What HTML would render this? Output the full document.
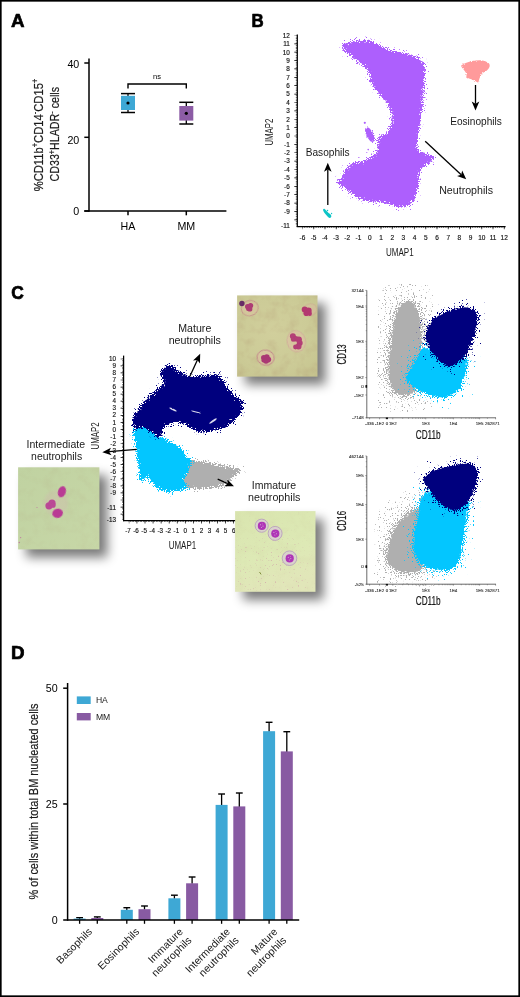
<!DOCTYPE html>
<html lang="en"><head><meta charset="utf-8"><title>Figure</title>
<style>
html,body{margin:0;padding:0;background:#fff;}
body{width:520px;height:997px;overflow:hidden;}
svg{display:block;}
svg text{font-family:"Liberation Sans","DejaVu Sans",sans-serif;}
</style></head><body>
<svg width="520" height="997" viewBox="0 0 520 997">
<defs>
<filter id="rough" x="-10%" y="-10%" width="120%" height="120%" color-interpolation-filters="sRGB">
<feTurbulence type="fractalNoise" baseFrequency="0.55" numOctaves="2" seed="3" result="n"/>
<feDisplacementMap in="SourceGraphic" in2="n" scale="3.2" xChannelSelector="R" yChannelSelector="G" result="d"/>
<feMorphology in="d" operator="dilate" radius="3" result="dil"/>
<feGaussianBlur in="d" stdDeviation="1.3" result="bl"/>
<feTurbulence type="fractalNoise" baseFrequency="0.87" numOctaves="2" seed="9" result="n2"/>
<feColorMatrix in="n2" type="matrix" values="0 0 0 0 0  0 0 0 0 0  0 0 0 0 0  1 0 0 0 0" result="na"/>
<feComposite in="bl" in2="na" operator="arithmetic" k1="0" k2="1" k3="2.6" k4="-1.8" result="sum"/>
<feComponentTransfer in="sum" result="mask"><feFuncA type="linear" slope="10" intercept="0"/></feComponentTransfer>
<feComposite in="dil" in2="mask" operator="in" result="spk"/>
<feMorphology in="d" operator="erode" radius="1.8" result="core"/>
<feMerge><feMergeNode in="spk"/><feMergeNode in="core"/></feMerge>
</filter>
<filter id="rough2" x="-10%" y="-10%" width="120%" height="120%">
<feTurbulence type="fractalNoise" baseFrequency="0.8" numOctaves="2" seed="7" result="n"/>
<feDisplacementMap in="SourceGraphic" in2="n" scale="2" xChannelSelector="R" yChannelSelector="G"/>
</filter>
<filter id="rough3" x="-15%" y="-15%" width="130%" height="130%">
<feTurbulence type="fractalNoise" baseFrequency="0.9" numOctaves="2" seed="5" result="n"/>
<feDisplacementMap in="SourceGraphic" in2="n" scale="3.2" xChannelSelector="R" yChannelSelector="G"/>
</filter>
<filter id="shadow" x="-50%" y="-50%" width="200%" height="200%">
<feGaussianBlur stdDeviation="5.3"/>
</filter>
<filter id="b1" x="-30%" y="-30%" width="160%" height="160%"><feGaussianBlur stdDeviation="0.7"/></filter>
<filter id="b2" x="-30%" y="-30%" width="160%" height="160%"><feGaussianBlur stdDeviation="1.2"/></filter>
</defs>
<rect x="0" y="0" width="520" height="997" fill="#fff"/>

<text font-size="18.8" font-weight="bold" x="10.9" y="27.1" stroke="#000" stroke-width="0.7" stroke-linejoin="round">A</text>
<text font-size="18.8" font-weight="bold" textLength="12.2" lengthAdjust="spacingAndGlyphs" x="251.4" y="26.7" stroke="#000" stroke-width="0.7" stroke-linejoin="round">B</text>
<text font-size="18.8" font-weight="bold" textLength="12.6" lengthAdjust="spacingAndGlyphs" x="11.2" y="298.6" stroke="#000" stroke-width="0.7" stroke-linejoin="round">C</text>
<text font-size="18.8" font-weight="bold" x="11.0" y="659.0" stroke="#000" stroke-width="0.7" stroke-linejoin="round">D</text>
<g id="panelA">
<line x1="89" y1="58.6" x2="89" y2="211.75" stroke="#000" stroke-width="1.5" />
<line x1="84.3" y1="211" x2="226.4" y2="211" stroke="#000" stroke-width="1.5" />
<line x1="84.3" y1="63" x2="89" y2="63" stroke="#000" stroke-width="1.5" />
<line x1="84.3" y1="137.3" x2="89" y2="137.3" stroke="#000" stroke-width="1.5" />
<line x1="84.3" y1="211" x2="89" y2="211" stroke="#000" stroke-width="1.5" />
<line x1="128" y1="211" x2="128" y2="215.3" stroke="#000" stroke-width="1.5" />
<line x1="186.3" y1="211" x2="186.3" y2="215.3" stroke="#000" stroke-width="1.5" />
<text font-size="10.7" text-anchor="end" x="79.3" y="67.6" >40</text>
<text font-size="10.7" text-anchor="end" x="79.3" y="143.5" >20</text>
<text font-size="10.7" text-anchor="end" x="79.3" y="214.7" >0</text>
<text font-size="10.7" text-anchor="middle" x="128" y="230.4" >HA</text>
<text font-size="10.7" text-anchor="middle" x="186.3" y="230.4" >MM</text>
<line x1="128" y1="93.6" x2="128" y2="112.5" stroke="#000" stroke-width="1.3" />
<line x1="121" y1="93.6" x2="135" y2="93.6" stroke="#000" stroke-width="1.5" />
<line x1="121" y1="112.5" x2="135" y2="112.5" stroke="#000" stroke-width="1.5" />
<rect x="121.00" y="95.80" width="14.00" height="14.20" fill="#3ea8d5" />
<circle cx="128" cy="103" r="1.6" fill="#000"/>
<line x1="186.3" y1="102.3" x2="186.3" y2="124" stroke="#000" stroke-width="1.3" />
<line x1="179.3" y1="102.3" x2="193.3" y2="102.3" stroke="#000" stroke-width="1.5" />
<line x1="179.3" y1="124" x2="193.3" y2="124" stroke="#000" stroke-width="1.5" />
<rect x="179.30" y="106.00" width="14.00" height="14.60" fill="#8c5ca5" />
<circle cx="186.3" cy="113.3" r="1.6" fill="#000"/>
<path d="M128 88.6 V84 H186.3 V88.6" fill="none" stroke="#000" stroke-width="1.4"/>
<text font-size="7.5" text-anchor="middle" x="157" y="79.3" >ns</text>
<text font-size="12.8" textLength="112.6" lengthAdjust="spacingAndGlyphs" fill="#1a1a1a" transform="translate(42.5 191.3) rotate(-90)" stroke="#1a1a1a" stroke-width="0.2">%CD11b<tspan font-size="8.6" dy="-4.6">+</tspan><tspan dy="4.6">CD14</tspan><tspan font-size="8.6" dy="-4.6">-</tspan><tspan dy="4.6">CD15</tspan><tspan font-size="8.6" dy="-4.6">+</tspan></text>
<text font-size="12.8" textLength="94.6" lengthAdjust="spacingAndGlyphs" fill="#1a1a1a" transform="translate(59.1 181.5) rotate(-90)" stroke="#1a1a1a" stroke-width="0.2">CD33<tspan font-size="8.6" dy="-4.6">+</tspan><tspan dy="4.6">HLADR</tspan><tspan font-size="8.6" dy="-4.6">-</tspan><tspan dy="4.6"> cells</tspan></text>
</g>
<g id="panelB">
<line x1="297.3" y1="34.5" x2="297.3" y2="227.1" stroke="#000" stroke-width="1.25" />
<line x1="296.7" y1="226.5" x2="505.6" y2="226.5" stroke="#000" stroke-width="1.25" />
<line x1="295.60" y1="35.44" x2="295.60" y2="224.83" stroke="#000" stroke-width="2.6" stroke-dasharray="0.7 7.6800" stroke-dashoffset="0.35"/>
<line x1="296.35" y1="35.44" x2="296.35" y2="224.83" stroke="#000" stroke-width="1.1" stroke-dasharray="0.45 1.2260" stroke-dashoffset="0.225"/>
<line x1="302.60" y1="228.10" x2="504.60" y2="228.10" stroke="#000" stroke-width="2.4" stroke-dasharray="0.7 10.5000" stroke-dashoffset="0.35"/>
<line x1="302.60" y1="227.45" x2="504.60" y2="227.45" stroke="#000" stroke-width="1.1" stroke-dasharray="0.45 1.7900" stroke-dashoffset="0.225"/>
<text font-size="6.4" text-anchor="end" fill="#111" x="289.8" y="37.74" stroke="#111" stroke-width="0.15">12</text>
<text font-size="6.4" text-anchor="end" fill="#111" x="289.8" y="46.12" stroke="#111" stroke-width="0.15">11</text>
<text font-size="6.4" text-anchor="end" fill="#111" x="289.8" y="54.5" stroke="#111" stroke-width="0.15">10</text>
<text font-size="6.4" text-anchor="end" fill="#111" x="289.8" y="62.88" stroke="#111" stroke-width="0.15">9</text>
<text font-size="6.4" text-anchor="end" fill="#111" x="289.8" y="71.26" stroke="#111" stroke-width="0.15">8</text>
<text font-size="6.4" text-anchor="end" fill="#111" x="289.8" y="79.64" stroke="#111" stroke-width="0.15">7</text>
<text font-size="6.4" text-anchor="end" fill="#111" x="289.8" y="88.02" stroke="#111" stroke-width="0.15">6</text>
<text font-size="6.4" text-anchor="end" fill="#111" x="289.8" y="96.4" stroke="#111" stroke-width="0.15">5</text>
<text font-size="6.4" text-anchor="end" fill="#111" x="289.8" y="104.78" stroke="#111" stroke-width="0.15">4</text>
<text font-size="6.4" text-anchor="end" fill="#111" x="289.8" y="113.16" stroke="#111" stroke-width="0.15">3</text>
<text font-size="6.4" text-anchor="end" fill="#111" x="289.8" y="121.54" stroke="#111" stroke-width="0.15">2</text>
<text font-size="6.4" text-anchor="end" fill="#111" x="289.8" y="129.92" stroke="#111" stroke-width="0.15">1</text>
<text font-size="6.4" text-anchor="end" fill="#111" x="289.8" y="138.3" stroke="#111" stroke-width="0.15">0</text>
<text font-size="6.4" text-anchor="end" fill="#111" x="289.8" y="146.68" stroke="#111" stroke-width="0.15">-1</text>
<text font-size="6.4" text-anchor="end" fill="#111" x="289.8" y="155.06" stroke="#111" stroke-width="0.15">-2</text>
<text font-size="6.4" text-anchor="end" fill="#111" x="289.8" y="163.44" stroke="#111" stroke-width="0.15">-3</text>
<text font-size="6.4" text-anchor="end" fill="#111" x="289.8" y="171.82" stroke="#111" stroke-width="0.15">-4</text>
<text font-size="6.4" text-anchor="end" fill="#111" x="289.8" y="180.2" stroke="#111" stroke-width="0.15">-5</text>
<text font-size="6.4" text-anchor="end" fill="#111" x="289.8" y="188.58" stroke="#111" stroke-width="0.15">-6</text>
<text font-size="6.4" text-anchor="end" fill="#111" x="289.8" y="196.96" stroke="#111" stroke-width="0.15">-7</text>
<text font-size="6.4" text-anchor="end" fill="#111" x="289.8" y="205.34" stroke="#111" stroke-width="0.15">-8</text>
<text font-size="6.4" text-anchor="end" fill="#111" x="289.8" y="213.72" stroke="#111" stroke-width="0.15">-9</text>
<text font-size="6.4" text-anchor="end" fill="#111" x="289.8" y="227.9" stroke="#111" stroke-width="0.15">-11</text>
<text font-size="6.5" text-anchor="middle" fill="#111" x="302.4" y="240.4" stroke="#111" stroke-width="0.15">-6</text>
<text font-size="6.5" text-anchor="middle" fill="#111" x="313.6" y="240.4" stroke="#111" stroke-width="0.15">-5</text>
<text font-size="6.5" text-anchor="middle" fill="#111" x="324.8" y="240.4" stroke="#111" stroke-width="0.15">-4</text>
<text font-size="6.5" text-anchor="middle" fill="#111" x="336.0" y="240.4" stroke="#111" stroke-width="0.15">-3</text>
<text font-size="6.5" text-anchor="middle" fill="#111" x="347.2" y="240.4" stroke="#111" stroke-width="0.15">-2</text>
<text font-size="6.5" text-anchor="middle" fill="#111" x="358.4" y="240.4" stroke="#111" stroke-width="0.15">-1</text>
<text font-size="6.5" text-anchor="middle" fill="#111" x="369.8" y="240.4" stroke="#111" stroke-width="0.15">0</text>
<text font-size="6.5" text-anchor="middle" fill="#111" x="381.0" y="240.4" stroke="#111" stroke-width="0.15">1</text>
<text font-size="6.5" text-anchor="middle" fill="#111" x="392.2" y="240.4" stroke="#111" stroke-width="0.15">2</text>
<text font-size="6.5" text-anchor="middle" fill="#111" x="403.4" y="240.4" stroke="#111" stroke-width="0.15">3</text>
<text font-size="6.5" text-anchor="middle" fill="#111" x="414.6" y="240.4" stroke="#111" stroke-width="0.15">4</text>
<text font-size="6.5" text-anchor="middle" fill="#111" x="425.8" y="240.4" stroke="#111" stroke-width="0.15">5</text>
<text font-size="6.5" text-anchor="middle" fill="#111" x="437.0" y="240.4" stroke="#111" stroke-width="0.15">6</text>
<text font-size="6.5" text-anchor="middle" fill="#111" x="448.2" y="240.4" stroke="#111" stroke-width="0.15">7</text>
<text font-size="6.5" text-anchor="middle" fill="#111" x="459.4" y="240.4" stroke="#111" stroke-width="0.15">8</text>
<text font-size="6.5" text-anchor="middle" fill="#111" x="470.6" y="240.4" stroke="#111" stroke-width="0.15">9</text>
<text font-size="6.5" text-anchor="middle" fill="#111" x="481.8" y="240.4" stroke="#111" stroke-width="0.15">10</text>
<text font-size="6.5" text-anchor="middle" fill="#111" x="493.0" y="240.4" stroke="#111" stroke-width="0.15">11</text>
<text font-size="6.5" text-anchor="middle" fill="#111" x="504.2" y="240.4" stroke="#111" stroke-width="0.15">12</text>
<text font-size="10.8" textLength="27" lengthAdjust="spacingAndGlyphs" fill="#1a1a1a" transform="translate(273.0 145.6) rotate(-90)" >UMAP2</text>
<text font-size="10.8" textLength="27.7" lengthAdjust="spacingAndGlyphs" fill="#1a1a1a" x="386" y="256.4" >UMAP1</text>
<path d="M342.0 46.6 C341.8 45.0 342.4 44.2 345.0 43.2 C347.6 42.2 354.1 40.9 357.7 40.4 C361.3 39.9 363.8 40.0 366.9 40.4 C370.0 40.8 373.1 41.4 376.2 42.7 C379.3 44.0 381.9 46.6 385.4 48.0 C388.8 49.4 392.7 50.2 396.9 51.2 C401.1 52.2 406.8 52.7 410.8 54.2 C414.9 55.7 418.9 57.9 421.2 60.0 C423.5 62.1 424.0 63.4 424.6 66.9 C425.2 70.4 425.2 75.4 425.0 80.8 C424.8 86.2 424.1 93.0 423.5 99.2 C422.9 105.4 421.9 112.6 421.2 117.7 C420.5 122.8 419.9 127.3 419.5 130.0 C419.1 132.7 419.1 130.9 418.8 133.8 C418.5 136.8 417.1 144.6 417.7 147.7 C418.3 150.8 420.4 151.2 422.3 152.3 C424.2 153.5 427.3 153.9 429.2 154.6 C431.1 155.3 433.4 155.3 433.8 156.5 C434.2 157.7 433.0 159.9 431.5 161.5 C430.0 163.1 426.5 164.5 424.6 166.2 C422.7 167.9 421.0 169.2 420.0 171.9 C419.0 174.6 419.3 178.7 418.8 182.3 C418.3 186.0 418.2 190.5 417.2 193.8 C416.2 197.1 414.8 199.8 413.0 201.9 C411.2 204.0 408.9 205.6 406.2 206.5 C403.5 207.4 399.4 207.5 396.9 207.2 C394.4 206.9 393.9 205.7 391.2 204.9 C388.5 204.1 384.1 203.1 380.8 202.6 C377.5 202.1 374.6 202.4 371.5 201.9 C368.4 201.4 365.4 200.8 362.3 199.6 C359.2 198.4 356.1 196.9 353.0 195.0 C349.9 193.1 346.6 190.0 343.8 188.0 C341.1 186.0 337.1 184.5 336.5 182.8 C335.9 181.1 338.8 180.1 340.4 177.7 C342.0 175.3 344.1 171.0 346.2 168.5 C348.3 166.0 349.9 164.0 353.0 162.7 C356.1 161.3 361.3 161.6 364.6 160.4 C367.9 159.2 370.6 157.5 372.7 155.8 C374.8 154.1 376.5 152.9 377.3 150.0 C378.1 147.1 376.5 141.0 377.3 138.5 C378.1 136.0 380.2 136.2 381.9 135.0 C383.6 133.8 386.3 133.2 387.7 131.5 C389.1 129.8 389.8 126.5 390.5 124.6 C391.2 122.7 391.7 121.9 391.8 120.0 C391.9 118.1 392.1 115.7 391.2 113.0 C390.3 110.3 388.4 106.9 386.5 103.8 C384.6 100.7 381.9 97.5 379.6 94.6 C377.3 91.7 374.5 89.0 372.7 86.5 C370.9 84.0 369.4 81.7 368.8 79.6 C368.2 77.5 369.9 75.9 369.2 73.8 C368.5 71.7 366.9 69.2 364.6 66.9 C362.3 64.6 358.5 62.3 355.4 60.0 C352.3 57.7 348.4 55.2 346.2 53.0 C344.0 50.8 342.2 48.2 342.0 46.6Z" fill="#ad5ffd" filter="url(#rough)" />
<path d="M365.3 128.6 C365.8 127.6 367.6 127.4 368.6 127.8 C369.7 128.2 370.7 129.7 371.6 131.0 C372.5 132.3 373.7 133.9 374.2 135.5 C374.7 137.1 375.3 139.5 374.8 140.6 C374.3 141.7 372.5 142.1 371.4 141.8 C370.3 141.5 369.1 139.9 368.2 138.6 C367.3 137.3 366.3 135.7 365.8 134.0 C365.3 132.3 364.8 129.6 365.3 128.6Z" fill="#ad5ffd" filter="url(#rough3)" />
<circle cx="364.8" cy="122.8" r="1.1" fill="#ad5ffd"/><circle cx="368.2" cy="149.6" r="0.8" fill="#ad5ffd"/><circle cx="366.8" cy="152.5" r="0.6" fill="#ad5ffd"/>
<path d="M461.2 66.0 C461.3 64.9 462.6 64.3 464.6 63.4 C466.6 62.5 470.4 61.3 473.3 60.8 C476.2 60.3 479.4 60.1 481.9 60.4 C484.3 60.7 486.7 61.6 488.0 62.5 C489.3 63.4 489.8 64.7 489.7 66.0 C489.6 67.3 488.4 69.0 487.1 70.3 C485.8 71.6 483.2 72.3 481.9 73.7 C480.6 75.1 479.9 77.5 479.3 78.9 C478.7 80.4 478.8 82.1 478.1 82.4 C477.4 82.8 476.5 81.6 475.3 81.0 C474.1 80.4 472.1 79.5 470.7 79.0 C469.2 78.5 467.3 79.1 466.6 78.2 C465.9 77.3 466.9 75.2 466.4 73.8 C465.9 72.4 464.7 71.1 463.8 69.8 C462.9 68.5 461.1 67.1 461.2 66.0Z" fill="#ff9a9b" filter="url(#rough3)" />
<path d="M323.1 209.5 C323.2 209.0 323.9 208.7 324.5 208.9 C325.1 209.1 325.9 210.2 326.6 210.9 C327.3 211.6 327.9 212.3 328.6 212.9 C329.3 213.5 330.2 213.8 330.6 214.4 C331.1 215.0 331.4 216.0 331.3 216.6 C331.2 217.2 330.7 217.8 330.1 217.9 C329.6 218.0 328.7 217.6 328.0 217.0 C327.3 216.4 326.5 215.4 325.8 214.6 C325.1 213.8 324.3 212.8 323.9 212.0 C323.4 211.2 323.0 210.0 323.1 209.5Z" fill="#0cc4c6" />
<g fill="#0cc4c6"><circle cx="327.5" cy="210.6" r="0.75"/><circle cx="331.6" cy="213.5" r="0.65"/></g>
<line x1="475.5" y1="85" x2="475.5" y2="103.8" stroke="#000" stroke-width="1.3" />
<path d="M475.50 110.60 L471.70 101.60 L475.50 103.80 L479.30 101.60 Z" fill="#000"/>
<line x1="327.8" y1="204.9" x2="327.8" y2="169.6" stroke="#000" stroke-width="1.3" />
<path d="M327.80 162.80 L331.60 171.80 L327.80 169.60 L324.00 171.80 Z" fill="#000"/>
<line x1="425.2" y1="141.3" x2="461.21" y2="174.68" stroke="#000" stroke-width="1.3" />
<path d="M466.20 179.30 L457.02 175.97 L461.21 174.68 L462.18 170.40 Z" fill="#000"/>
<text font-size="10.6" textLength="51.6" lengthAdjust="spacingAndGlyphs" fill="#1a1a1a" x="450.2" y="124.8" >Eosinophils</text>
<text font-size="10.6" textLength="43.9" lengthAdjust="spacingAndGlyphs" fill="#1a1a1a" x="305.7" y="156.1" >Basophils</text>
<text font-size="10.6" textLength="53.8" lengthAdjust="spacingAndGlyphs" fill="#1a1a1a" x="439.2" y="193.6" >Neutrophils</text>
</g>
<g id="panelC">
<line x1="123.6" y1="355.6" x2="123.6" y2="521.2" stroke="#000" stroke-width="1.25" />
<line x1="123.0" y1="520.6" x2="240" y2="520.6" stroke="#000" stroke-width="1.25" />
<line x1="121.90" y1="358.80" x2="121.90" y2="520.47" stroke="#000" stroke-width="2.6" stroke-dasharray="0.7 6.3600" stroke-dashoffset="0.35"/>
<line x1="122.65" y1="358.80" x2="122.65" y2="520.47" stroke="#000" stroke-width="1.1" stroke-dasharray="0.45 0.9620" stroke-dashoffset="0.225"/>
<line x1="128.88" y1="522.20" x2="239.30" y2="522.20" stroke="#000" stroke-width="2.4" stroke-dasharray="0.7 7.3600" stroke-dashoffset="0.35"/>
<line x1="128.88" y1="521.55" x2="239.30" y2="521.55" stroke="#000" stroke-width="1.1" stroke-dasharray="0.45 1.1620" stroke-dashoffset="0.225"/>
<text font-size="6.3" text-anchor="end" fill="#111" x="115.9" y="361.0" stroke="#111" stroke-width="0.15">10</text>
<text font-size="6.3" text-anchor="end" fill="#111" x="115.9" y="368.06" stroke="#111" stroke-width="0.15">9</text>
<text font-size="6.3" text-anchor="end" fill="#111" x="115.9" y="375.12" stroke="#111" stroke-width="0.15">8</text>
<text font-size="6.3" text-anchor="end" fill="#111" x="115.9" y="382.18" stroke="#111" stroke-width="0.15">7</text>
<text font-size="6.3" text-anchor="end" fill="#111" x="115.9" y="389.24" stroke="#111" stroke-width="0.15">6</text>
<text font-size="6.3" text-anchor="end" fill="#111" x="115.9" y="396.3" stroke="#111" stroke-width="0.15">5</text>
<text font-size="6.3" text-anchor="end" fill="#111" x="115.9" y="403.36" stroke="#111" stroke-width="0.15">4</text>
<text font-size="6.3" text-anchor="end" fill="#111" x="115.9" y="410.42" stroke="#111" stroke-width="0.15">3</text>
<text font-size="6.3" text-anchor="end" fill="#111" x="115.9" y="417.48" stroke="#111" stroke-width="0.15">2</text>
<text font-size="6.3" text-anchor="end" fill="#111" x="115.9" y="424.54" stroke="#111" stroke-width="0.15">1</text>
<text font-size="6.3" text-anchor="end" fill="#111" x="115.9" y="431.6" stroke="#111" stroke-width="0.15">0</text>
<text font-size="6.3" text-anchor="end" fill="#111" x="115.9" y="438.66" stroke="#111" stroke-width="0.15">-1</text>
<text font-size="6.3" text-anchor="end" fill="#111" x="115.9" y="445.72" stroke="#111" stroke-width="0.15">-2</text>
<text font-size="6.3" text-anchor="end" fill="#111" x="115.9" y="452.78" stroke="#111" stroke-width="0.15">-3</text>
<text font-size="6.3" text-anchor="end" fill="#111" x="115.9" y="459.84" stroke="#111" stroke-width="0.15">-4</text>
<text font-size="6.3" text-anchor="end" fill="#111" x="115.9" y="466.9" stroke="#111" stroke-width="0.15">-5</text>
<text font-size="6.3" text-anchor="end" fill="#111" x="115.9" y="473.96" stroke="#111" stroke-width="0.15">-6</text>
<text font-size="6.3" text-anchor="end" fill="#111" x="115.9" y="481.02" stroke="#111" stroke-width="0.15">-7</text>
<text font-size="6.3" text-anchor="end" fill="#111" x="115.9" y="488.08" stroke="#111" stroke-width="0.15">-8</text>
<text font-size="6.3" text-anchor="end" fill="#111" x="115.9" y="495.14" stroke="#111" stroke-width="0.15">-9</text>
<text font-size="6.3" text-anchor="end" fill="#111" x="115.9" y="509.5" stroke="#111" stroke-width="0.15">-11</text>
<text font-size="6.3" text-anchor="end" fill="#111" x="115.9" y="521.6" stroke="#111" stroke-width="0.15">-13</text>
<text font-size="6.3" text-anchor="middle" fill="#111" x="127.98" y="533.3" stroke="#111" stroke-width="0.15">-7</text>
<text font-size="6.3" text-anchor="middle" fill="#111" x="136.04" y="533.3" stroke="#111" stroke-width="0.15">-6</text>
<text font-size="6.3" text-anchor="middle" fill="#111" x="144.1" y="533.3" stroke="#111" stroke-width="0.15">-5</text>
<text font-size="6.3" text-anchor="middle" fill="#111" x="152.16" y="533.3" stroke="#111" stroke-width="0.15">-4</text>
<text font-size="6.3" text-anchor="middle" fill="#111" x="160.22" y="533.3" stroke="#111" stroke-width="0.15">-3</text>
<text font-size="6.3" text-anchor="middle" fill="#111" x="168.28" y="533.3" stroke="#111" stroke-width="0.15">-2</text>
<text font-size="6.3" text-anchor="middle" fill="#111" x="176.34" y="533.3" stroke="#111" stroke-width="0.15">-1</text>
<text font-size="6.3" text-anchor="middle" fill="#111" x="185.3" y="533.3" stroke="#111" stroke-width="0.15">0</text>
<text font-size="6.3" text-anchor="middle" fill="#111" x="193.36" y="533.3" stroke="#111" stroke-width="0.15">1</text>
<text font-size="6.3" text-anchor="middle" fill="#111" x="201.42" y="533.3" stroke="#111" stroke-width="0.15">2</text>
<text font-size="6.3" text-anchor="middle" fill="#111" x="209.48" y="533.3" stroke="#111" stroke-width="0.15">3</text>
<text font-size="6.3" text-anchor="middle" fill="#111" x="217.54" y="533.3" stroke="#111" stroke-width="0.15">4</text>
<text font-size="6.3" text-anchor="middle" fill="#111" x="225.6" y="533.3" stroke="#111" stroke-width="0.15">5</text>
<text font-size="6.3" text-anchor="middle" fill="#111" x="233.66" y="533.3" stroke="#111" stroke-width="0.15">6</text>
<text font-size="10.8" textLength="27" lengthAdjust="spacingAndGlyphs" fill="#1a1a1a" transform="translate(99.0 449.4) rotate(-90)" >UMAP2</text>
<text font-size="10.8" textLength="27.5" lengthAdjust="spacingAndGlyphs" fill="#1a1a1a" x="168.7" y="548.6" >UMAP1</text>
<path d="M188.0 460.8 C190.6 459.1 196.6 460.8 200.8 461.2 C205.0 461.6 208.9 462.4 213.0 463.2 C217.1 464.0 220.9 464.9 225.4 465.8 C229.9 466.7 237.2 467.9 239.8 468.8 C242.4 469.8 241.7 470.3 240.8 471.5 C239.9 472.7 236.9 474.4 234.6 476.2 C232.3 478.0 229.5 480.5 226.9 482.3 C224.3 484.1 222.5 485.9 219.2 486.9 C215.9 487.9 211.0 488.2 206.9 488.5 C202.8 488.8 198.1 488.8 194.6 488.8 C191.1 488.8 188.3 489.8 186.0 488.5 C183.7 487.2 181.2 483.6 181.0 480.8 C180.8 478.0 183.8 474.8 185.0 471.5 C186.2 468.2 185.4 462.5 188.0 460.8Z" fill="#afafaf" filter="url(#rough)" />
<path d="M133.0 429.0 C134.6 427.4 139.2 424.9 142.3 425.0 C145.4 425.1 148.7 427.7 151.5 429.5 C154.3 431.3 156.1 433.8 159.2 435.7 C162.3 437.6 166.7 438.9 170.0 440.8 C173.3 442.7 176.4 444.3 179.2 446.9 C182.0 449.5 184.8 453.9 186.9 456.2 C189.0 458.5 191.2 458.2 191.5 460.8 C191.8 463.4 189.8 468.2 188.5 471.5 C187.2 474.8 183.8 478.0 183.8 480.8 C183.8 483.6 189.3 486.9 188.5 488.5 C187.7 490.1 182.5 489.9 179.2 490.6 C175.9 491.3 171.8 492.7 168.5 492.5 C165.2 492.3 162.0 491.1 159.2 489.4 C156.4 487.7 153.6 484.5 151.5 482.3 C149.4 480.1 148.2 476.4 146.9 476.2 C145.6 475.9 145.1 480.3 143.8 480.8 C142.5 481.3 140.1 481.2 139.2 479.2 C138.3 477.1 139.0 472.3 138.6 468.5 C138.2 464.7 137.3 460.3 136.8 456.2 C136.3 452.1 136.1 447.4 135.5 443.8 C134.9 440.2 133.4 437.1 133.0 434.6 C132.6 432.1 131.4 430.6 133.0 429.0Z" fill="#03c6ff" filter="url(#rough)" />
<path d="M161.4 369.2 C162.9 367.4 166.4 364.3 169.4 364.6 C172.4 364.9 176.0 368.9 179.2 370.8 C182.4 372.8 184.9 375.5 188.5 376.3 C192.1 377.1 196.7 375.6 200.8 375.4 C204.9 375.1 209.6 374.5 213.0 374.8 C216.4 375.1 218.9 375.2 221.3 377.3 C223.7 379.4 224.9 383.8 227.6 387.2 C230.2 390.6 234.6 395.2 237.2 397.6 C239.8 400.0 242.6 398.8 243.2 401.5 C243.8 404.2 242.2 410.7 240.8 413.8 C239.4 416.9 237.2 417.7 234.6 420.0 C232.0 422.3 229.0 425.9 225.4 427.7 C221.8 429.5 217.1 430.1 213.0 430.8 C208.9 431.5 204.4 432.0 200.8 431.7 C197.2 431.4 194.1 430.4 191.5 429.2 C188.9 428.0 187.5 425.7 185.4 424.6 C183.3 423.5 181.5 422.8 179.2 422.5 C176.9 422.2 174.1 422.1 171.5 423.0 C168.9 423.9 165.3 425.6 163.8 427.7 C162.3 429.8 163.3 433.7 162.3 435.4 C161.3 437.1 159.5 438.3 157.7 437.8 C155.9 437.3 154.1 434.0 151.5 432.3 C148.9 430.6 145.1 428.2 142.3 427.7 C139.5 427.2 136.2 430.5 134.6 429.2 C133.0 427.9 132.2 422.8 132.5 420.0 C132.8 417.2 134.3 415.4 136.2 412.3 C138.1 409.2 140.7 405.1 143.8 401.5 C146.9 397.9 151.4 393.9 154.6 390.8 C157.8 387.7 162.3 385.6 163.2 383.0 C164.1 380.4 160.5 377.7 160.2 375.4 C159.9 373.1 159.9 371.0 161.4 369.2Z" fill="#00007e" filter="url(#rough)" />
<g fill="#fff" filter="url(#rough2)" opacity="0.85"><ellipse cx="173" cy="409.5" rx="4" ry="0.8" transform="rotate(25 173 409.5)"/><ellipse cx="213" cy="421" rx="4.5" ry="1.0" transform="rotate(-35 213 421)"/><ellipse cx="196" cy="412" rx="5" ry="0.5" transform="rotate(15 196 412)"/></g>
<line x1="189.8" y1="376.6" x2="197.38" y2="359.99" stroke="#000" stroke-width="1.3" />
<path d="M200.20 353.80 L199.92 363.57 L197.38 359.99 L193.01 360.41 Z" fill="#000"/>
<line x1="136.8" y1="449.4" x2="109.08" y2="451.65" stroke="#000" stroke-width="1.3" />
<path d="M102.30 452.20 L110.96 447.68 L109.08 451.65 L111.58 455.26 Z" fill="#000"/>
<line x1="217.7" y1="479.2" x2="227.77" y2="483.58" stroke="#000" stroke-width="1.3" />
<path d="M234.00 486.30 L224.23 486.19 L227.77 483.58 L227.27 479.22 Z" fill="#000"/>
<text font-size="10.6" text-anchor="middle" fill="#1a1a1a" x="194.8" y="331.9" >Mature</text>
<text font-size="10.6" text-anchor="middle" textLength="52.3" lengthAdjust="spacingAndGlyphs" fill="#1a1a1a" x="194.8" y="344.2" >neutrophils</text>
<text font-size="10.6" text-anchor="middle" textLength="58.5" lengthAdjust="spacingAndGlyphs" fill="#1a1a1a" x="55.8" y="448" >Intermediate</text>
<text font-size="10.6" text-anchor="middle" textLength="51" lengthAdjust="spacingAndGlyphs" fill="#1a1a1a" x="56.6" y="460.3" >neutrophils</text>
<text font-size="10.6" text-anchor="middle" textLength="44.3" lengthAdjust="spacingAndGlyphs" fill="#1a1a1a" x="274" y="489" >Immature</text>
<text font-size="10.6" text-anchor="middle" textLength="52.4" lengthAdjust="spacingAndGlyphs" fill="#1a1a1a" x="274.2" y="500.9" >neutrophils</text>
<defs>
<radialGradient id="gm" cx="0.45" cy="0.45" r="0.75"><stop offset="0" stop-color="#d1cf9c"/><stop offset="0.6" stop-color="#cccb97"/><stop offset="1" stop-color="#c6c48f"/></radialGradient>
<linearGradient id="gi" x1="0" y1="0" x2="1" y2="1"><stop offset="0" stop-color="#c0d2a1"/><stop offset="1" stop-color="#c7d7a7"/></linearGradient>
<linearGradient id="gu" x1="0" y1="0" x2="0.3" y2="1"><stop offset="0" stop-color="#d9e5af"/><stop offset="0.6" stop-color="#dde9b5"/><stop offset="1" stop-color="#e1e6b9"/></linearGradient>
<filter id="mott" x="0" y="0" width="100%" height="100%" color-interpolation-filters="sRGB">
<feTurbulence type="fractalNoise" baseFrequency="0.09" numOctaves="3" seed="8" result="t"/>
<feColorMatrix in="t" type="matrix" values="0 0 0 0 0.62  0 0 0 0 0.45  0 0 0 0 0.35  1.6 0 0 0 -0.72"/>
<feComposite in2="SourceAlpha" operator="in"/>
</filter>
<filter id="speck" x="0" y="0" width="100%" height="100%" color-interpolation-filters="sRGB">
<feTurbulence type="fractalNoise" baseFrequency="0.55" numOctaves="2" seed="21" result="t"/>
<feColorMatrix in="t" type="matrix" values="0 0 0 0 0.80  0 0 0 0 0.54  0 0 0 0 0.64  7 0 0 0 -4.72"/>
<feComposite in2="SourceAlpha" operator="in"/>
</filter>
</defs>
<rect x="245.1" y="303.4" width="80.4" height="81.2" fill="#000" opacity="0.52" filter="url(#shadow)"/>
<rect x="237.1" y="295.4" width="80.4" height="81.2" fill="url(#gm)"/>
<rect x="237.1" y="295.4" width="80.4" height="81.2" fill="#000" opacity="0.22" filter="url(#mott)"/>
<clipPath id="cm"><rect x="237.1" y="295.4" width="80.4" height="81.2"/></clipPath><g clip-path="url(#cm)">
<ellipse cx="249.8" cy="308.2" rx="8.6" ry="7.6" transform="rotate(-20 249.8 308.2)" fill="#dcc0a0" fill-opacity="0.45" stroke="#c27e86" stroke-width="0.9" stroke-opacity="0.75" filter="url(#b1)"/>
<g fill="#a92e70" filter="url(#b1)" opacity="0.9"><circle cx="247.6" cy="306.5" r="2.6"/><circle cx="250.6" cy="305.5" r="2.6"/><circle cx="249.8" cy="308.9" r="2.6"/><circle cx="248.0" cy="308.9" r="2.0"/></g>
<g fill="#5c1c62" filter="url(#b1)" opacity="0.9"><circle cx="241.9" cy="303.5" r="2.7"/></g>
<ellipse cx="309.5" cy="310.0" rx="7.5" ry="6.0" transform="rotate(-25 309.5 310.0)" fill="#d9bea0" fill-opacity="0.5" stroke="#c79a8c" stroke-width="0.8" stroke-opacity="0.5" filter="url(#b1)"/>
<g fill="#b02a6c" filter="url(#b1)" opacity="0.9"><circle cx="304.7" cy="309.6" r="3.0"/><circle cx="308.5" cy="310.8" r="3.2"/><circle cx="306.3" cy="313.2" r="2.8"/><circle cx="309.7" cy="313.8" r="2.2"/></g>
<ellipse cx="296.3" cy="341.3" rx="9.2" ry="10.8" transform="rotate(-15 296.3 341.3)" fill="#e0c2a6" fill-opacity="0.55" stroke="#cf9a98" stroke-width="0.9" stroke-opacity="0.6" filter="url(#b1)"/>
<g fill="#b03072" filter="url(#b1)" opacity="0.9"><circle cx="292.9" cy="336.2" r="3.0"/><circle cx="295.7" cy="338.8" r="2.8"/><circle cx="298.9" cy="339.4" r="3.0"/><circle cx="299.7" cy="343.0" r="3.0"/><circle cx="298.5" cy="346.6" r="3.0"/><circle cx="295.5" cy="347.0" r="2.4"/><circle cx="293.1" cy="339.6" r="2.2"/></g>
<ellipse cx="265.6" cy="357.6" rx="8.6" ry="7.6" transform="rotate(10 265.6 357.6)" fill="#e0c4a6" fill-opacity="0.5" stroke="#bf7686" stroke-width="1.0" stroke-opacity="0.8" filter="url(#b1)"/>
<g fill="#a62c70" filter="url(#b1)" opacity="0.9"><circle cx="263.8" cy="357.8" r="2.8"/><circle cx="266.8" cy="357.0" r="2.8"/><circle cx="268.4" cy="359.6" r="2.8"/><circle cx="266.0" cy="361.0" r="2.8"/><circle cx="263.4" cy="360.6" r="2.0"/></g>
</g>
<rect x="26.1" y="475.3" width="81.3" height="82.1" fill="#000" opacity="0.52" filter="url(#shadow)"/>
<rect x="18.1" y="467.3" width="81.3" height="82.1" fill="url(#gi)"/>
<rect x="18.1" y="467.3" width="81.3" height="82.1" fill="#000" opacity="0.1" filter="url(#mott)"/>
<clipPath id="ci"><rect x="18.1" y="467.3" width="81.3" height="82.1"/></clipPath><g clip-path="url(#ci)">
<ellipse cx="56" cy="503" rx="12" ry="13" fill="#d8a8b8" opacity="0.22" filter="url(#b2)"/>
<ellipse cx="61.9" cy="491.8" rx="3.9" ry="5.7" transform="rotate(18 61.9 491.8)" fill="#b93a94" filter="url(#b1)"/>
<g fill="#b93a94" filter="url(#b1)" opacity="0.9"><circle cx="49.0" cy="505.8" r="3.6"/><circle cx="52.0" cy="503.2" r="3.6"/><circle cx="53.0" cy="505.2" r="2.6"/></g>
<ellipse cx="57.6" cy="513.3" rx="5.3" ry="4.6" transform="rotate(-12 57.6 513.3)" fill="#b93a94" filter="url(#b1)"/>
<g fill="#c060a0" opacity="0.7"><circle cx="19.3" cy="542.5" r="0.8"/><circle cx="20.6" cy="537.6" r="0.7"/><circle cx="37" cy="507.5" r="0.6"/></g>
</g>
<rect x="243.1" y="519.1" width="80.4" height="80.7" fill="#000" opacity="0.52" filter="url(#shadow)"/>
<rect x="235.1" y="511.1" width="80.4" height="80.7" fill="url(#gu)"/>
<rect x="235.1" y="511.1" width="80.4" height="80.7" fill="#000" opacity="0.06" filter="url(#mott)"/>
<clipPath id="cu"><rect x="235.1" y="511.1" width="80.4" height="80.7"/></clipPath><g clip-path="url(#cu)">
<defs><radialGradient id="spk" cx="0.42" cy="0.78" r="0.62"><stop offset="0" stop-color="#000" stop-opacity="1"/><stop offset="0.55" stop-color="#000" stop-opacity="0.75"/><stop offset="1" stop-color="#000" stop-opacity="0.1"/></radialGradient></defs><rect x="235.1" y="511.1" width="80.4" height="80.7" fill="url(#spk)" opacity="0.6" filter="url(#speck)"/>
<circle cx="261.7" cy="525.7" r="6.6" fill="#d9d2cc" stroke="#b9a0bc" stroke-width="0.9" filter="url(#b1)"/>
<circle cx="261.9" cy="525.9000000000001" r="4.1" fill="#ae34b6" filter="url(#b1)"/>
<g fill="#e6c8ea" opacity="0.8"><circle cx="260.5" cy="524.7" r="0.55"/><circle cx="263.0" cy="526.1" r="0.55"/><circle cx="261.5" cy="527.4000000000001" r="0.5"/><circle cx="262.5" cy="523.9000000000001" r="0.45"/></g>
<circle cx="275.1" cy="533.4" r="7.0" fill="#d9d2cc" stroke="#b9a0bc" stroke-width="0.9" filter="url(#b1)"/>
<circle cx="275.3" cy="533.6" r="4.1" fill="#ae34b6" filter="url(#b1)"/>
<g fill="#e6c8ea" opacity="0.8"><circle cx="273.90000000000003" cy="532.4" r="0.55"/><circle cx="276.40000000000003" cy="533.8" r="0.55"/><circle cx="274.90000000000003" cy="535.1" r="0.5"/><circle cx="275.90000000000003" cy="531.6" r="0.45"/></g>
<circle cx="289.5" cy="558.2" r="7.3" fill="#d9d2cc" stroke="#b9a0bc" stroke-width="0.9" filter="url(#b1)"/>
<circle cx="289.7" cy="558.4000000000001" r="4.1" fill="#ae34b6" filter="url(#b1)"/>
<g fill="#e6c8ea" opacity="0.8"><circle cx="288.3" cy="557.2" r="0.55"/><circle cx="290.8" cy="558.6" r="0.55"/><circle cx="289.3" cy="559.9000000000001" r="0.5"/><circle cx="290.3" cy="556.4000000000001" r="0.45"/></g>
<path d="M259.5 572 l1.6 2.4" stroke="#6a7a20" stroke-width="1" opacity="0.8"/>
</g>
</g>
<defs><filter id="cloudG" x="-30%" y="-30%" width="160%" height="160%" color-interpolation-filters="sRGB">
<feTurbulence type="fractalNoise" baseFrequency="0.6" numOctaves="2" seed="11" result="n"/>
<feDisplacementMap in="SourceGraphic" in2="n" scale="4.5" xChannelSelector="R" yChannelSelector="G" result="core0"/><feMorphology in="core0" operator="erode" radius="1.4" result="core"/>
<feMorphology in="SourceGraphic" operator="dilate" radius="16" result="dil"/>
<feGaussianBlur in="SourceAlpha" stdDeviation="6.0" result="blur"/>
<feTurbulence type="fractalNoise" baseFrequency="0.83" numOctaves="2" seed="4" result="n2"/>
<feColorMatrix in="n2" type="matrix" values="0 0 0 0 0  0 0 0 0 0  0 0 0 0 0  1 0 0 0 0" result="na"/>
<feComposite in="blur" in2="na" operator="arithmetic" k1="0" k2="1" k3="2.4" k4="-1.6" result="sum"/>
<feComponentTransfer in="sum" result="mask"><feFuncA type="linear" slope="7" intercept="0"/></feComponentTransfer>
<feComposite in="dil" in2="mask" operator="in" result="halo"/>
<feMerge><feMergeNode in="halo"/><feMergeNode in="core"/></feMerge>
</filter><filter id="cloudS" x="-30%" y="-30%" width="160%" height="160%" color-interpolation-filters="sRGB">
<feTurbulence type="fractalNoise" baseFrequency="0.6" numOctaves="2" seed="13" result="n"/>
<feDisplacementMap in="SourceGraphic" in2="n" scale="4" xChannelSelector="R" yChannelSelector="G" result="core0"/><feMorphology in="core0" operator="erode" radius="1" result="core"/>
<feMorphology in="SourceGraphic" operator="dilate" radius="10" result="dil"/>
<feGaussianBlur in="SourceAlpha" stdDeviation="4.2" result="blur"/>
<feTurbulence type="fractalNoise" baseFrequency="0.83" numOctaves="2" seed="9" result="n2"/>
<feColorMatrix in="n2" type="matrix" values="0 0 0 0 0  0 0 0 0 0  0 0 0 0 0  1 0 0 0 0" result="na"/>
<feComposite in="blur" in2="na" operator="arithmetic" k1="0" k2="1" k3="2.2" k4="-1.62" result="sum"/>
<feComponentTransfer in="sum" result="mask"><feFuncA type="linear" slope="9" intercept="0"/></feComponentTransfer>
<feComposite in="dil" in2="mask" operator="in" result="halo"/>
<feMerge><feMergeNode in="halo"/><feMergeNode in="core"/></feMerge>
</filter><filter id="cloudN" x="-30%" y="-30%" width="160%" height="160%" color-interpolation-filters="sRGB">
<feTurbulence type="fractalNoise" baseFrequency="0.6" numOctaves="2" seed="17" result="n"/>
<feDisplacementMap in="SourceGraphic" in2="n" scale="3.5" xChannelSelector="R" yChannelSelector="G" result="core0"/><feMorphology in="core0" operator="erode" radius="0.8" result="core"/>
<feMorphology in="SourceGraphic" operator="dilate" radius="8" result="dil"/>
<feGaussianBlur in="SourceAlpha" stdDeviation="3.2" result="blur"/>
<feTurbulence type="fractalNoise" baseFrequency="0.83" numOctaves="2" seed="6" result="n2"/>
<feColorMatrix in="n2" type="matrix" values="0 0 0 0 0  0 0 0 0 0  0 0 0 0 0  1 0 0 0 0" result="na"/>
<feComposite in="blur" in2="na" operator="arithmetic" k1="0" k2="1" k3="2.2" k4="-1.64" result="sum"/>
<feComponentTransfer in="sum" result="mask"><feFuncA type="linear" slope="9" intercept="0"/></feComponentTransfer>
<feComposite in="dil" in2="mask" operator="in" result="halo"/>
<feMerge><feMergeNode in="halo"/><feMergeNode in="core"/></feMerge>
</filter></defs>
<g id="flow1">
<line x1="366.8" y1="290.4" x2="366.8" y2="418.2" stroke="#444" stroke-width="0.8" />
<line x1="366.4" y1="417.8" x2="496" y2="417.8" stroke="#444" stroke-width="0.8" />
<text font-size="4.4" text-anchor="end" fill="#333" x="363.6" y="291.9" stroke="#333" stroke-width="0.12">32144</text>
<line x1="365.3" y1="290.4" x2="366.8" y2="290.4" stroke="#444" stroke-width="0.5" />
<text font-size="4.4" text-anchor="end" fill="#333" x="363.6" y="307.5" stroke="#333" stroke-width="0.12">1E4</text>
<line x1="365.3" y1="306" x2="366.8" y2="306" stroke="#444" stroke-width="0.5" />
<text font-size="4.4" text-anchor="end" fill="#333" x="363.6" y="342.8" stroke="#333" stroke-width="0.12">1E3</text>
<line x1="365.3" y1="341.3" x2="366.8" y2="341.3" stroke="#444" stroke-width="0.5" />
<text font-size="4.4" text-anchor="end" fill="#333" x="363.6" y="379.1" stroke="#333" stroke-width="0.12">1E2</text>
<line x1="365.3" y1="377.6" x2="366.8" y2="377.6" stroke="#444" stroke-width="0.5" />
<text font-size="4.4" text-anchor="end" fill="#333" x="363.6" y="387.8" stroke="#333" stroke-width="0.12">0</text>
<line x1="365.3" y1="386.3" x2="366.8" y2="386.3" stroke="#444" stroke-width="0.5" />
<text font-size="4.4" text-anchor="end" fill="#333" x="363.6" y="396.5" stroke="#333" stroke-width="0.12">-1E2</text>
<line x1="365.3" y1="395" x2="366.8" y2="395" stroke="#444" stroke-width="0.5" />
<text font-size="4.4" text-anchor="end" fill="#333" x="363.6" y="419.3" stroke="#333" stroke-width="0.12">-7148</text>
<line x1="365.3" y1="417.8" x2="366.8" y2="417.8" stroke="#444" stroke-width="0.5" />
<text font-size="4.4" text-anchor="middle" fill="#333" x="369.6" y="425.2" stroke="#333" stroke-width="0.12">-336</text>
<text font-size="4.4" text-anchor="middle" fill="#333" x="379.6" y="425.2" stroke="#333" stroke-width="0.12">-1E2</text>
<text font-size="4.4" text-anchor="middle" fill="#333" x="387" y="425.2" stroke="#333" stroke-width="0.12">0</text>
<text font-size="4.4" text-anchor="middle" fill="#333" x="392.8" y="425.2" stroke="#333" stroke-width="0.12">1E2</text>
<text font-size="4.4" text-anchor="middle" fill="#333" x="425.7" y="425.2" stroke="#333" stroke-width="0.12">1E3</text>
<text font-size="4.4" text-anchor="middle" fill="#333" x="453.4" y="425.2" stroke="#333" stroke-width="0.12">1E4</text>
<text font-size="4.4" text-anchor="middle" fill="#333" x="479.6" y="425.2" stroke="#333" stroke-width="0.12">1E5</text>
<text font-size="4.4" text-anchor="middle" fill="#333" x="492.3" y="425.2" stroke="#333" stroke-width="0.12">262871</text>
<line x1="369.6" y1="417.8" x2="369.6" y2="419.3" stroke="#444" stroke-width="0.5" />
<line x1="379.6" y1="417.8" x2="379.6" y2="419.3" stroke="#444" stroke-width="0.5" />
<line x1="387" y1="417.8" x2="387" y2="419.3" stroke="#444" stroke-width="0.5" />
<line x1="392.8" y1="417.8" x2="392.8" y2="419.3" stroke="#444" stroke-width="0.5" />
<line x1="425.7" y1="417.8" x2="425.7" y2="419.3" stroke="#444" stroke-width="0.5" />
<line x1="453.4" y1="417.8" x2="453.4" y2="419.3" stroke="#444" stroke-width="0.5" />
<line x1="479.6" y1="417.8" x2="479.6" y2="419.3" stroke="#444" stroke-width="0.5" />
<line x1="495.6" y1="417.8" x2="495.6" y2="419.3" stroke="#444" stroke-width="0.5" />
<path d="M366.8 330.67h-1.1M366.8 324.46h-1.1M366.8 320.05h-1.1M366.8 316.63h-1.1M366.8 313.83h-1.1M366.8 311.47h-1.1M366.8 309.42h-1.1M366.8 307.62h-1.1M366.8 366.67h-1.1M366.8 360.28h-1.1M366.8 355.75h-1.1M366.8 352.23h-1.1M366.8 349.35h-1.1M366.8 346.92h-1.1M366.8 344.82h-1.1M366.8 342.96h-1.1M366.8 295.37h-1.1M402.70 417.8v1.1M408.50 417.8v1.1M412.61 417.8v1.1M415.80 417.8v1.1M418.40 417.8v1.1M420.60 417.8v1.1M422.51 417.8v1.1M424.19 417.8v1.1M434.04 417.8v1.1M438.92 417.8v1.1M442.38 417.8v1.1M445.06 417.8v1.1M447.25 417.8v1.1M449.11 417.8v1.1M450.72 417.8v1.1M452.13 417.8v1.1M461.29 417.8v1.1M465.90 417.8v1.1M469.17 417.8v1.1M471.71 417.8v1.1M473.79 417.8v1.1M475.54 417.8v1.1M477.06 417.8v1.1M478.40 417.8v1.1M487.43 417.8v1.1" stroke="#444" stroke-width="0.4" fill="none"/>
<rect x="385.80" y="417.50" width="2.20" height="1.60" fill="#111" />
<rect x="365.50" y="385.00" width="1.60" height="2.80" fill="#111" />
<text font-size="12.4" text-anchor="middle" textLength="20.2" lengthAdjust="spacingAndGlyphs" fill="#1a1a1a" transform="translate(345.8 354.4) rotate(-90)" stroke="#1a1a1a" stroke-width="0.2">CD13</text>
<text font-size="12.4" text-anchor="middle" textLength="25" lengthAdjust="spacingAndGlyphs" fill="#1a1a1a" x="428.2" y="439" stroke="#1a1a1a" stroke-width="0.2">CD11b</text>
<path d="M388.8 382.3 C387.6 378.3 387.6 373.9 387.7 368.5 C387.8 363.1 388.6 356.2 389.3 350.0 C390.0 343.8 390.7 337.3 391.6 331.5 C392.5 325.7 393.3 319.8 394.6 315.4 C395.9 311.0 397.1 307.5 399.2 305.0 C401.3 302.5 405.0 301.0 407.3 300.4 C409.6 299.8 411.3 300.1 413.0 301.5 C414.7 302.9 416.3 305.4 417.7 308.5 C419.1 311.6 420.4 315.4 421.2 320.0 C422.0 324.6 422.2 330.9 422.3 336.2 C422.4 341.5 421.9 346.0 421.5 352.0 C421.1 358.0 420.9 365.5 420.0 372.0 C419.1 378.5 418.5 387.0 416.0 391.0 C413.5 395.0 408.6 395.9 405.0 396.2 C401.4 396.5 397.3 395.0 394.6 392.7 C391.9 390.4 390.0 386.3 388.8 382.3Z" fill="#afafaf" filter="url(#cloudG)" />
<path d="M405.0 378.8 C404.6 375.7 407.7 372.1 409.6 368.5 C411.5 364.9 414.2 360.6 416.5 356.9 C418.8 353.2 419.6 347.3 423.5 346.5 C427.4 345.7 432.9 350.1 440.0 352.0 C447.1 353.9 460.9 357.5 466.0 358.0 C471.1 358.5 470.3 353.5 470.5 354.8 C470.7 356.1 468.2 362.2 467.3 366.0 C466.4 369.8 466.1 373.8 465.0 377.7 C463.9 381.6 463.1 385.9 460.4 389.2 C457.7 392.5 452.6 395.8 448.8 397.3 C445.0 398.8 441.5 398.6 437.3 398.0 C433.1 397.4 427.7 395.7 423.5 393.8 C419.3 391.9 415.0 389.4 411.9 386.9 C408.8 384.4 405.4 381.9 405.0 378.8Z" fill="#03c6ff" filter="url(#cloudS)" />
<path d="M424.6 336.2 C424.5 333.1 425.5 329.8 426.9 326.9 C428.2 324.0 430.2 321.1 432.7 318.8 C435.2 316.5 438.4 314.8 441.9 313.1 C445.4 311.4 449.6 309.6 453.5 308.5 C457.4 307.4 461.4 306.0 465.0 306.2 C468.6 306.4 473.2 307.7 475.4 309.6 C477.6 311.5 478.2 314.4 478.4 317.7 C478.6 321.0 477.6 325.0 476.5 329.2 C475.4 333.4 473.6 338.7 471.9 343.1 C470.2 347.5 468.5 352.4 466.2 355.8 C463.9 359.2 460.8 361.9 458.1 363.8 C455.4 365.7 452.7 367.3 450.0 367.3 C447.3 367.3 444.6 365.7 441.9 363.8 C439.2 361.9 436.2 358.9 433.8 355.8 C431.4 352.7 429.1 348.7 427.6 345.4 C426.1 342.1 424.7 339.3 424.6 336.2Z" fill="#00007e" filter="url(#cloudN)" />
</g><g id="flow2">
<line x1="366.8" y1="456" x2="366.8" y2="584.6" stroke="#444" stroke-width="0.8" />
<line x1="366.4" y1="584.2" x2="496" y2="584.2" stroke="#444" stroke-width="0.8" />
<text font-size="4.4" text-anchor="end" fill="#333" x="363.6" y="457.5" stroke="#333" stroke-width="0.12">462144</text>
<line x1="365.3" y1="456" x2="366.8" y2="456" stroke="#444" stroke-width="0.5" />
<text font-size="4.4" text-anchor="end" fill="#333" x="363.6" y="477.0" stroke="#333" stroke-width="0.12">1E5</text>
<line x1="365.3" y1="475.5" x2="366.8" y2="475.5" stroke="#444" stroke-width="0.5" />
<text font-size="4.4" text-anchor="end" fill="#333" x="363.6" y="506.0" stroke="#333" stroke-width="0.12">1E4</text>
<line x1="365.3" y1="504.5" x2="366.8" y2="504.5" stroke="#444" stroke-width="0.5" />
<text font-size="4.4" text-anchor="end" fill="#333" x="363.6" y="540.7" stroke="#333" stroke-width="0.12">1E3</text>
<line x1="365.3" y1="539.2" x2="366.8" y2="539.2" stroke="#444" stroke-width="0.5" />
<text font-size="4.4" text-anchor="end" fill="#333" x="363.6" y="568.0" stroke="#333" stroke-width="0.12">0</text>
<line x1="365.3" y1="566.5" x2="366.8" y2="566.5" stroke="#444" stroke-width="0.5" />
<text font-size="4.4" text-anchor="end" fill="#333" x="363.6" y="585.7" stroke="#333" stroke-width="0.12">-525</text>
<line x1="365.3" y1="584.2" x2="366.8" y2="584.2" stroke="#444" stroke-width="0.5" />
<text font-size="4.4" text-anchor="middle" fill="#333" x="369.6" y="592" stroke="#333" stroke-width="0.12">-336</text>
<text font-size="4.4" text-anchor="middle" fill="#333" x="379.6" y="592" stroke="#333" stroke-width="0.12">-1E2</text>
<text font-size="4.4" text-anchor="middle" fill="#333" x="387" y="592" stroke="#333" stroke-width="0.12">0</text>
<text font-size="4.4" text-anchor="middle" fill="#333" x="392.8" y="592" stroke="#333" stroke-width="0.12">1E2</text>
<text font-size="4.4" text-anchor="middle" fill="#333" x="425.7" y="592" stroke="#333" stroke-width="0.12">1E3</text>
<text font-size="4.4" text-anchor="middle" fill="#333" x="453.4" y="592" stroke="#333" stroke-width="0.12">1E4</text>
<text font-size="4.4" text-anchor="middle" fill="#333" x="479.6" y="592" stroke="#333" stroke-width="0.12">1E5</text>
<text font-size="4.4" text-anchor="middle" fill="#333" x="492.3" y="592" stroke="#333" stroke-width="0.12">262871</text>
<line x1="369.6" y1="584.2" x2="369.6" y2="585.7" stroke="#444" stroke-width="0.5" />
<line x1="379.6" y1="584.2" x2="379.6" y2="585.7" stroke="#444" stroke-width="0.5" />
<line x1="387" y1="584.2" x2="387" y2="585.7" stroke="#444" stroke-width="0.5" />
<line x1="392.8" y1="584.2" x2="392.8" y2="585.7" stroke="#444" stroke-width="0.5" />
<line x1="425.7" y1="584.2" x2="425.7" y2="585.7" stroke="#444" stroke-width="0.5" />
<line x1="453.4" y1="584.2" x2="453.4" y2="585.7" stroke="#444" stroke-width="0.5" />
<line x1="479.6" y1="584.2" x2="479.6" y2="585.7" stroke="#444" stroke-width="0.5" />
<line x1="495.6" y1="584.2" x2="495.6" y2="585.7" stroke="#444" stroke-width="0.5" />
<path d="M366.8 495.77h-1.1M366.8 490.66h-1.1M366.8 487.04h-1.1M366.8 484.23h-1.1M366.8 481.93h-1.1M366.8 479.99h-1.1M366.8 478.31h-1.1M366.8 476.83h-1.1M366.8 528.75h-1.1M366.8 522.64h-1.1M366.8 518.31h-1.1M366.8 514.95h-1.1M366.8 512.20h-1.1M366.8 509.88h-1.1M366.8 507.86h-1.1M366.8 506.09h-1.1M366.8 466.77h-1.1M366.8 461.66h-1.1M366.8 458.04h-1.1M402.70 584.2v1.1M408.50 584.2v1.1M412.61 584.2v1.1M415.80 584.2v1.1M418.40 584.2v1.1M420.60 584.2v1.1M422.51 584.2v1.1M424.19 584.2v1.1M434.04 584.2v1.1M438.92 584.2v1.1M442.38 584.2v1.1M445.06 584.2v1.1M447.25 584.2v1.1M449.11 584.2v1.1M450.72 584.2v1.1M452.13 584.2v1.1M461.29 584.2v1.1M465.90 584.2v1.1M469.17 584.2v1.1M471.71 584.2v1.1M473.79 584.2v1.1M475.54 584.2v1.1M477.06 584.2v1.1M478.40 584.2v1.1M487.43 584.2v1.1" stroke="#444" stroke-width="0.4" fill="none"/>
<rect x="385.80" y="583.90" width="2.20" height="1.60" fill="#111" />
<rect x="365.50" y="565.20" width="1.60" height="2.80" fill="#111" />
<text font-size="12.4" text-anchor="middle" textLength="20.2" lengthAdjust="spacingAndGlyphs" fill="#1a1a1a" transform="translate(345.8 521) rotate(-90)" stroke="#1a1a1a" stroke-width="0.2">CD16</text>
<text font-size="12.4" text-anchor="middle" textLength="25" lengthAdjust="spacingAndGlyphs" fill="#1a1a1a" x="428.2" y="605.4" stroke="#1a1a1a" stroke-width="0.2">CD11b</text>
<path d="M386.1 556.5 C386.1 552.6 387.6 547.3 388.8 542.7 C390.0 538.1 391.4 532.8 393.5 528.8 C395.6 524.8 398.4 521.6 401.5 518.5 C404.6 515.4 408.8 512.4 411.9 510.4 C415.0 508.4 418.0 504.9 420.0 506.5 C422.0 508.1 423.3 511.9 424.0 520.0 C424.7 528.1 424.1 546.8 424.0 555.0 C423.9 563.2 425.5 566.2 423.5 569.2 C421.5 572.2 416.1 572.8 411.9 573.2 C407.7 573.6 402.0 572.7 398.1 571.5 C394.2 570.3 390.8 568.3 388.8 565.8 C386.8 563.3 386.1 560.4 386.1 556.5Z" fill="#afafaf" filter="url(#cloudG)" />
<path d="M421.2 496.5 C418.3 500.7 418.9 509.2 417.7 515.0 C416.5 520.8 414.7 525.8 413.8 531.2 C412.9 536.6 412.0 542.7 412.4 547.3 C412.8 551.9 414.1 555.5 416.1 558.8 C418.1 562.1 420.7 564.9 424.6 566.9 C428.5 568.9 434.8 570.4 439.6 570.8 C444.4 571.2 450.0 571.2 453.5 569.2 C457.0 567.2 459.0 564.0 460.8 558.8 C462.6 553.6 463.4 545.0 464.5 538.1 C465.6 531.2 466.4 523.4 467.3 517.3 C468.2 511.1 471.7 504.8 469.6 501.2 C467.6 497.6 460.8 497.9 455.0 496.0 C449.2 494.1 440.6 489.9 435.0 490.0 C429.4 490.1 424.1 492.3 421.2 496.5Z" fill="#03c6ff" filter="url(#cloudS)" />
<path d="M422.3 478.1 C423.9 476.1 428.3 472.1 432.7 470.0 C437.1 467.9 443.4 466.6 448.8 465.4 C454.2 464.2 460.6 462.6 465.0 462.6 C469.4 462.6 473.2 463.6 475.4 465.4 C477.6 467.2 478.1 469.9 478.2 473.5 C478.3 477.1 477.5 482.9 476.1 487.3 C474.8 491.7 472.2 496.6 470.1 500.0 C468.1 503.4 466.3 505.6 463.8 507.6 C461.3 509.6 458.6 511.8 455.3 511.8 C452.0 511.8 447.5 509.6 444.2 507.6 C440.9 505.6 438.2 503.0 435.5 500.0 C432.8 497.0 430.2 492.6 428.1 489.6 C426.0 486.6 424.0 484.1 423.0 482.2 C422.0 480.3 420.7 480.1 422.3 478.1Z" fill="#00007e" filter="url(#cloudN)" />
</g>
<g id="panelD">
<line x1="79.6" y1="917.7" x2="79.6" y2="919.1" stroke="#000" stroke-width="1.3" />
<line x1="76.19999999999999" y1="917.7" x2="83.0" y2="917.7" stroke="#000" stroke-width="1.4" />
<rect x="73.60" y="918.60" width="12.00" height="1.40" fill="#3ea8d5" />
<line x1="79.6" y1="920.0" x2="79.6" y2="923.8" stroke="#000" stroke-width="1.3" />
<line x1="97.3" y1="916.9" x2="97.3" y2="918.5" stroke="#000" stroke-width="1.3" />
<line x1="93.89999999999999" y1="916.9" x2="100.7" y2="916.9" stroke="#000" stroke-width="1.4" />
<rect x="91.30" y="918.00" width="12.00" height="2.00" fill="#885aa2" />
<line x1="97.3" y1="920.0" x2="97.3" y2="923.8" stroke="#000" stroke-width="1.3" />
<line x1="126.8" y1="907.7" x2="126.8" y2="910.3" stroke="#000" stroke-width="1.3" />
<line x1="123.39999999999999" y1="907.7" x2="130.2" y2="907.7" stroke="#000" stroke-width="1.4" />
<rect x="120.80" y="909.80" width="12.00" height="10.20" fill="#3ea8d5" />
<line x1="126.8" y1="920.0" x2="126.8" y2="923.8" stroke="#000" stroke-width="1.3" />
<line x1="144.5" y1="906" x2="144.5" y2="909.7" stroke="#000" stroke-width="1.3" />
<line x1="141.1" y1="906" x2="147.9" y2="906" stroke="#000" stroke-width="1.4" />
<rect x="138.50" y="909.20" width="12.00" height="10.80" fill="#885aa2" />
<line x1="144.5" y1="920.0" x2="144.5" y2="923.8" stroke="#000" stroke-width="1.3" />
<line x1="174.4" y1="895.2" x2="174.4" y2="898.8" stroke="#000" stroke-width="1.3" />
<line x1="171.0" y1="895.2" x2="177.8" y2="895.2" stroke="#000" stroke-width="1.4" />
<rect x="168.40" y="898.30" width="12.00" height="21.70" fill="#3ea8d5" />
<line x1="174.4" y1="920.0" x2="174.4" y2="923.8" stroke="#000" stroke-width="1.3" />
<line x1="192.1" y1="877" x2="192.1" y2="883.8" stroke="#000" stroke-width="1.3" />
<line x1="188.7" y1="877" x2="195.5" y2="877" stroke="#000" stroke-width="1.4" />
<rect x="186.10" y="883.30" width="12.00" height="36.70" fill="#885aa2" />
<line x1="192.1" y1="920.0" x2="192.1" y2="923.8" stroke="#000" stroke-width="1.3" />
<line x1="221.6" y1="794" x2="221.6" y2="805.4" stroke="#000" stroke-width="1.3" />
<line x1="218.2" y1="794" x2="225.0" y2="794" stroke="#000" stroke-width="1.4" />
<rect x="215.60" y="804.90" width="12.00" height="115.10" fill="#3ea8d5" />
<line x1="221.6" y1="920.0" x2="221.6" y2="923.8" stroke="#000" stroke-width="1.3" />
<line x1="239.29999999999998" y1="793" x2="239.29999999999998" y2="806.9" stroke="#000" stroke-width="1.3" />
<line x1="235.89999999999998" y1="793" x2="242.7" y2="793" stroke="#000" stroke-width="1.4" />
<rect x="233.30" y="806.40" width="12.00" height="113.60" fill="#885aa2" />
<line x1="239.29999999999998" y1="920.0" x2="239.29999999999998" y2="923.8" stroke="#000" stroke-width="1.3" />
<line x1="269.1" y1="722.3" x2="269.1" y2="731.7" stroke="#000" stroke-width="1.3" />
<line x1="265.70000000000005" y1="722.3" x2="272.5" y2="722.3" stroke="#000" stroke-width="1.4" />
<rect x="263.10" y="731.20" width="12.00" height="188.80" fill="#3ea8d5" />
<line x1="269.1" y1="920.0" x2="269.1" y2="923.8" stroke="#000" stroke-width="1.3" />
<line x1="286.8" y1="731.7" x2="286.8" y2="751.9" stroke="#000" stroke-width="1.3" />
<line x1="283.40000000000003" y1="731.7" x2="290.2" y2="731.7" stroke="#000" stroke-width="1.4" />
<rect x="280.80" y="751.40" width="12.00" height="168.60" fill="#885aa2" />
<line x1="286.8" y1="920.0" x2="286.8" y2="923.8" stroke="#000" stroke-width="1.3" />
<line x1="67.6" y1="683" x2="67.6" y2="920.75" stroke="#000" stroke-width="1.5" />
<line x1="63.2" y1="920.0" x2="299.2" y2="920.0" stroke="#000" stroke-width="1.5" />
<line x1="63.2" y1="688.2" x2="67.6" y2="688.2" stroke="#000" stroke-width="1.5" />
<line x1="63.2" y1="804" x2="67.6" y2="804" stroke="#000" stroke-width="1.5" />
<text font-size="10.7" text-anchor="end" x="57.6" y="691.8" >50</text>
<text font-size="10.7" text-anchor="end" x="57.6" y="807.5" >25</text>
<text font-size="10.7" text-anchor="end" x="57.6" y="923.6" >0</text>
<rect x="76.80" y="696.40" width="13.90" height="7.60" fill="#3ea8d5" />
<rect x="76.80" y="713.00" width="13.90" height="7.40" fill="#885aa2" />
<text font-size="8.6" fill="#1a1a1a" x="95.9" y="703.1" >HA</text>
<text font-size="8.6" fill="#1a1a1a" x="95.9" y="719.7" >MM</text>
<text font-size="13.2" textLength="196" lengthAdjust="spacingAndGlyphs" fill="#1a1a1a" transform="translate(38.2 899.5) rotate(-90)" stroke="#1a1a1a" stroke-width="0.2">% of cells within total BM nucleated cells</text>
<g transform="translate(92.75 932.3) rotate(-45)" font-size="10.5" fill="#1a1a1a" text-anchor="end"><text x="0" y="0">Basophils</text></g>
<g transform="translate(139.95 932.3) rotate(-45)" font-size="10.5" fill="#1a1a1a" text-anchor="end"><text x="0" y="0">Eosinophils</text></g>
<g transform="translate(183.55 932.3) rotate(-45)" font-size="10.5" fill="#1a1a1a" text-anchor="end"><text x="0" y="0">Immature</text><text x="0" y="12.2">neutrophils</text></g>
<g transform="translate(230.75 932.3) rotate(-45)" font-size="10.5" fill="#1a1a1a" text-anchor="end"><text x="0" y="0">Intermediate</text><text x="0" y="12.2">neutrophils</text></g>
<g transform="translate(278.25 932.3) rotate(-45)" font-size="10.5" fill="#1a1a1a" text-anchor="end"><text x="0" y="0">Mature</text><text x="0" y="12.2">neutrophils</text></g>
</g>
<rect x="0.8" y="0.8" width="518.4" height="995.4" fill="none" stroke="#000" stroke-width="1.7"/>
</svg></body></html>
